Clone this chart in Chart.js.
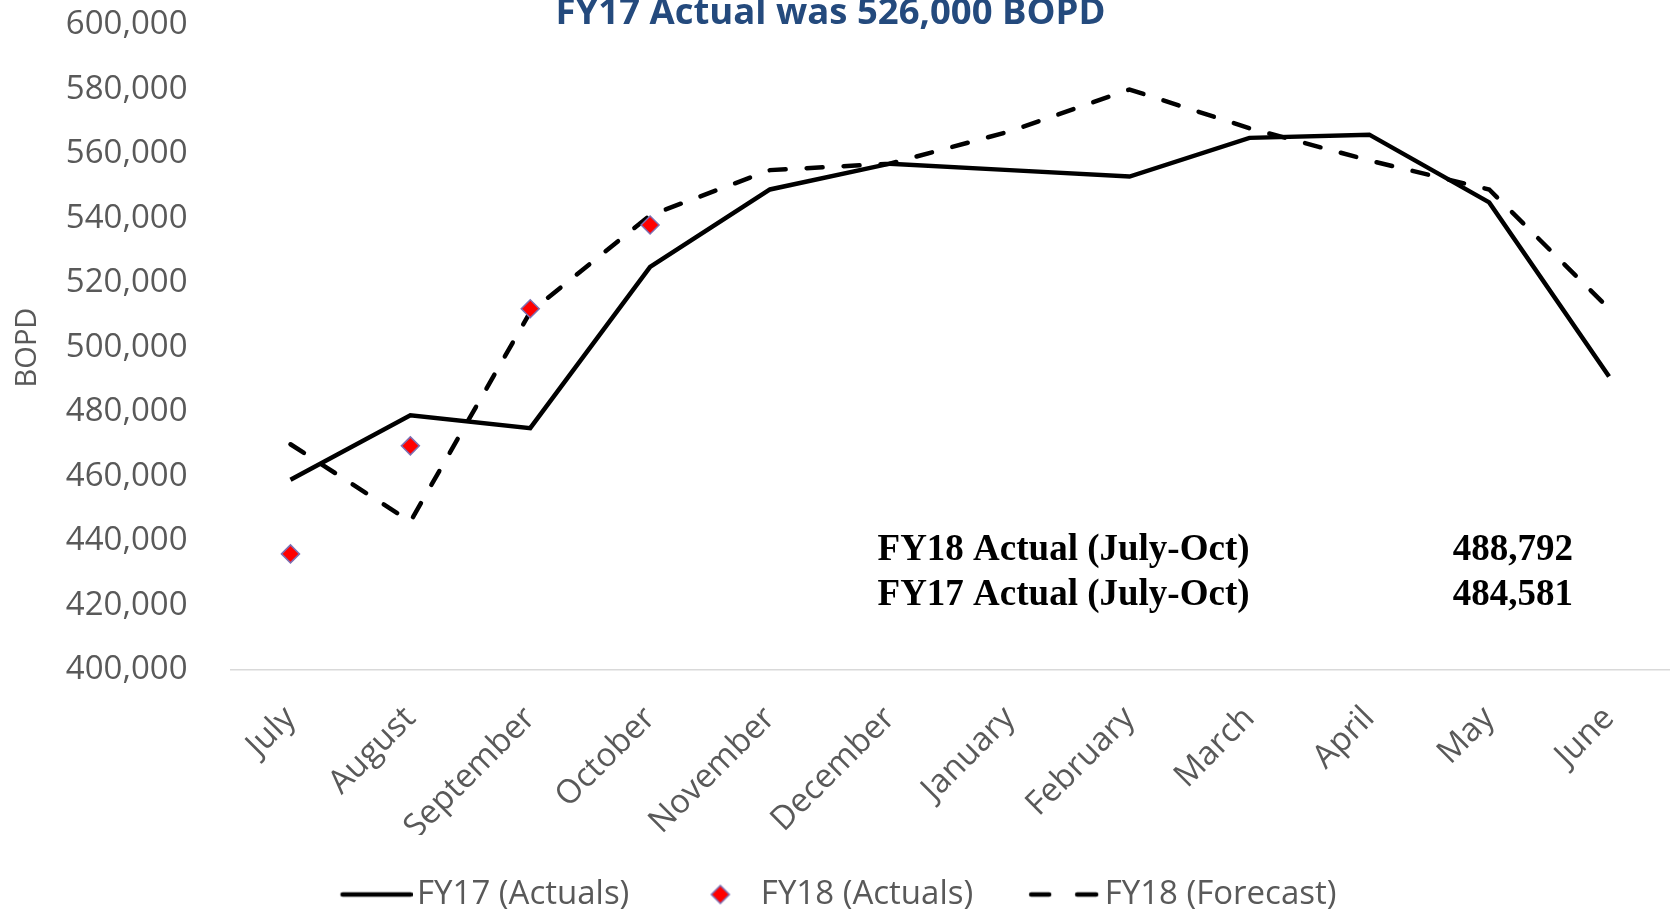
<!DOCTYPE html>
<html>
<head>
<meta charset="utf-8">
<title>FY17 vs FY18 BOPD</title>
<script src="https://cdn.jsdelivr.net/npm/chart.js@4/dist/chart.umd.min.js"></script>
<style>
  html, body { margin: 0; padding: 0; background: #ffffff; }
  #wrap { width: 1673px; height: 911px; }
</style>
</head>
<body>
<div id="wrap"><canvas id="chart" width="1673" height="911"></canvas></div>
<script>
// chart data
const months = ['July', 'August', 'September', 'October', 'November', 'December',
                'January', 'February', 'March', 'April', 'May', 'June'];
const fy17Actuals = [459000, 479000, 475000, 525000, 549000, 557000,
                     555000, 553000, 565000, 566000, 545000, 491000];
const fy18Actuals = [436000, 469500, 512000, 538000, null, null,
                     null, null, null, null, null, null];
const fy18Forecast = [470000, 446000, 511000, 541000, 555000, 557000,
                      567000, 580000, 568000, 558000, 549000, 512000];
const seriesNames = ['FY17 (Actuals)', 'FY18 (Actuals)', 'FY18 (Forecast)'];
const titleText = 'FY17 Actual was 526,000 BOPD';
const summaryLabels = ['FY18 Actual (July-Oct)', 'FY17 Actual (July-Oct)'];
const summaryValues = ['488,792', '484,581'];

const GREY = '#595959';
const TICK_FONT = { family: 'Open Sans', size: 33 };

// little legend icons, drawn on small canvases
function makeIcon(kind) {
    const c = document.createElement('canvas');
    c.width = 96;
    c.height = 24;
    const g = c.getContext('2d');
    g.strokeStyle = '#000000';
    g.lineWidth = 4.5;
    g.lineCap = 'round';
    if (kind === 'solid') {
        g.beginPath();
        g.moveTo(26, 12);
        g.lineTo(94, 12);
        g.stroke();
    } else if (kind === 'dash') {
        g.beginPath();
        g.moveTo(27, 12);
        g.lineTo(45, 12);
        g.moveTo(73, 12);
        g.lineTo(92, 12);
        g.stroke();
    } else {
        const cx = 60, cy = 12, r = 9;
        g.beginPath();
        g.moveTo(cx, cy - r);
        g.lineTo(cx + r, cy);
        g.lineTo(cx, cy + r);
        g.lineTo(cx - r, cy);
        g.closePath();
        g.fillStyle = '#ff0000';
        g.fill();
        g.lineWidth = 1.5;
        g.strokeStyle = '#7d6fb3';
        g.stroke();
    }
    return c;
}
const legendIcons = [makeIcon('solid'), makeIcon('diamond'), makeIcon('dash')];

// nudge the legend row a little to the left, like the original
const legendNudge = {
    id: 'legendNudge',
    afterLayout(chart) {
        chart.legend.left -= 5;
        chart.legend.right -= 5;
    }
};

const topTitle = {
    id: 'topTitle',
    afterDraw(chart) {
        const ctx = chart.ctx;
        ctx.save();
        ctx.font = 'bold 36.5px "Open Sans"';
        ctx.fillStyle = '#244a7d';
        ctx.textAlign = 'center';
        ctx.textBaseline = 'alphabetic';
        ctx.fillText(titleText, chart.width / 2 - 6, 24);
        ctx.restore();
    }
};

const summaryBox = {
    id: 'summaryBox',
    afterDraw(chart) {
        const { ctx, chartArea, scales } = chart;
        const rowsY = [scales.y.getPixelForValue(437000), scales.y.getPixelForValue(423000)];
        ctx.save();
        ctx.font = 'bold 37px "Liberation Serif"';
        ctx.fillStyle = '#000000';
        ctx.textBaseline = 'middle';
        summaryLabels.forEach((txt, i) => {
            ctx.textAlign = 'left';
            ctx.fillText(txt, chartArea.left + 647, rowsY[i]);
            ctx.textAlign = 'right';
            ctx.fillText(summaryValues[i], chartArea.right - 96, rowsY[i]);
        });
        ctx.restore();
    }
};

new Chart(document.getElementById('chart'), {
    type: 'line',
    data: {
        labels: months,
        datasets: [{
            label: seriesNames[0],
            data: fy17Actuals,
            borderColor: '#000000',
            borderWidth: 4.5,
            pointRadius: 0,
            fill: false,
            tension: 0,
            borderJoinStyle: 'miter'
        }, {
            label: seriesNames[1],
            data: fy18Actuals,
            showLine: false,
            pointStyle: 'rectRot',
            pointRadius: 9,
            pointBackgroundColor: '#ff0000',
            pointBorderColor: '#7d6fb3',
            pointBorderWidth: 1.5,
            borderColor: '#7d6fb3',
            backgroundColor: '#ff0000'
        }, {
            label: seriesNames[2],
            data: fy18Forecast,
            borderColor: '#000000',
            borderWidth: 4.5,
            borderDash: [16, 21],
            borderCapStyle: 'round',
            pointRadius: 0,
            fill: false,
            tension: 0
        }]
    },
    options: {
        responsive: false,
        animation: false,
        layout: {
            autoPadding: false,
            padding: { left: 6, right: 4, top: 25, bottom: -10 }
        },
        scales: {
            x: {
                offset: true,
                grid: { display: false, drawTicks: false },
                border: { display: true, color: '#d9d9d9', width: 1.5 },
                ticks: {
                    color: GREY,
                    font: TICK_FONT,
                    maxRotation: 45,
                    minRotation: 45,
                    padding: 29
                },
                afterFit(scale) {
                    scale.height = 165;
                    scale.paddingRight = 0;
                }
            },
            y: {
                min: 400000,
                max: 600000,
                grid: { display: false, drawTicks: true, tickLength: 43 },
                border: { display: false },
                ticks: {
                    stepSize: 20000,
                    color: GREY,
                    font: TICK_FONT,
                    padding: 0,
                    callback: v => v.toLocaleString('en-US')
                },
                title: {
                    display: true,
                    text: 'BOPD',
                    color: GREY,
                    font: { family: 'Open Sans', size: 29 },
                    padding: { top: 4, bottom: 21 }
                }
            }
        },
        plugins: {
            title: { display: false },
            tooltip: { enabled: false },
            legend: {
                position: 'bottom',
                labels: {
                    usePointStyle: true,
                    pointStyleWidth: 72,
                    boxHeight: 24,
                    padding: 43,
                    color: GREY,
                    font: { family: 'Open Sans', size: 33 },
                    generateLabels(chart) {
                        const items = Chart.defaults.plugins.legend.labels.generateLabels(chart);
                        items.forEach((it, i) => { it.pointStyle = legendIcons[i]; });
                        return items;
                    }
                }
            }
        }
    },
    plugins: [legendNudge, topTitle, summaryBox]
});
</script>
</body>
</html>
